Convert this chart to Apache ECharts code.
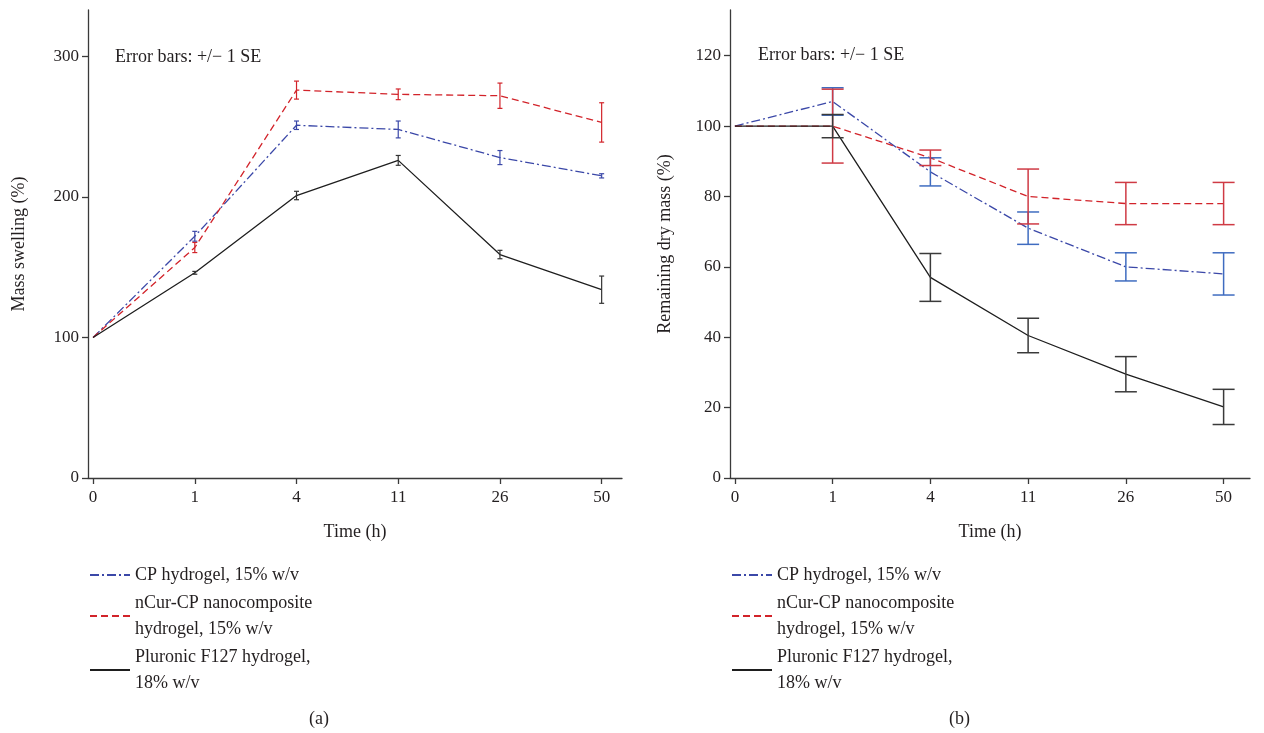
<!DOCTYPE html>
<html><head><meta charset="utf-8">
<script src="https://cdn.jsdelivr.net/npm/echarts@6/dist/echarts.min.js"></script>
<style>html,body{margin:0;padding:0;background:#fff}#c{width:1264px;height:733px}</style>
</head><body><div id="c"></div>
<script>
// ---- data ----
const timeLabels = ['0', '1', '4', '11', '26', '50'];
const seriesNames = ['CP hydrogel, 15% w/v', 'nCur-CP nanocomposite\nhydrogel, 15% w/v', 'Pluronic F127 hydrogel,\n18% w/v'];
const swellTicks = [0, 100, 200, 300];
const dryTicks = [0, 20, 40, 60, 80, 100, 120];

const swellCP   = [100, 172, 251, 248, 228, 215];
const swellCPse = [0, 3.5, 3, 6, 5, 1.5];
const swellNC   = [100, 164, 276, 273, 272, 253];
const swellNCse = [0, 3.6, 6.4, 3.8, 9, 14];
const swellPF   = [100, 146, 201, 226, 159, 134];
const swellPFse = [0, 1, 3, 3.5, 3, 9.7];

const dryCP   = [100, 107, 87, 71, 60, 58];
const dryCPse = [0, 3.9, 4, 4.6, 4, 6];
const dryNC   = [100, 100, 91, 80, 78, 78];
const dryNCse = [0, 10.5, 2.2, 7.8, 6, 6];
const dryPF   = [100, 100, 57, 40.5, 29.5, 20.2];
const dryPFse = [0, 3.3, 6.8, 4.9, 5, 5];

// ---- styles ----
const FONT = '"Liberation Serif", "DejaVu Serif", serif';
const TXT = '#231f20';
const AX = '#3a3a3a';
const lineColors = ['#3b48a8', '#d2232a', '#1e1e1e'];
const lineTypes = [[9, 3, 2, 3], [7, 4], 'solid'];
const errColorsA = ['#3b48a8', '#d2232a', '#333333'];
const errColorsB = ['#3f6cc0', '#cf3a44', '#3a3a3a'];

const chart = echarts.init(document.getElementById('c'), null, {renderer: 'canvas'});

function xAxis(gi) {
  return {
    type: 'value', gridIndex: gi, min: -0.05, max: gi === 0 ? 5.2 : 5.27,
    axisLine: {show: true, onZero: false, lineStyle: {color: AX, width: 1.3}},
    axisTick: {show: true, length: 6, lineStyle: {color: AX, width: 1.3}, customValues: [0, 1, 2, 3, 4, 5]},
    axisLabel: {customValues: [0, 1, 2, 3, 4, 5], formatter: v => timeLabels[Math.round(v)], color: TXT, fontFamily: FONT, fontSize: 17, margin: 11},
    splitLine: {show: false},
    name: 'Time (h)', nameLocation: 'middle', nameGap: 45,
    nameTextStyle: {color: TXT, fontFamily: FONT, fontSize: 18}
  };
}
function yAxis(gi, max, ticks, name, gap) {
  return {
    type: 'value', gridIndex: gi, min: 0, max: max,
    axisLine: {show: true, onZero: false, lineStyle: {color: AX, width: 1.3}},
    axisTick: {show: true, length: 6, lineStyle: {color: AX, width: 1.3}, customValues: ticks},
    axisLabel: {customValues: ticks, color: TXT, fontFamily: FONT, fontSize: 17, margin: 9},
    splitLine: {show: false},
    name: name, nameLocation: 'middle', nameGap: gap, nameRotate: 90,
    nameTextStyle: {color: TXT, fontFamily: FONT, fontSize: 18}
  };
}

function lineSeries(gi, idx, vals) {
  return {
    type: 'line', name: seriesNames[idx], xAxisIndex: gi, yAxisIndex: gi,
    data: vals.map((v, i) => [i, v]), symbol: 'none', z: 3,
    lineStyle: {color: lineColors[idx], width: 1.3, type: lineTypes[idx]},
    itemStyle: {color: lineColors[idx]}
  };
}
function errSeries(gi, vals, se, color, capHalf, lw) {
  return {
    type: 'custom', xAxisIndex: gi, yAxisIndex: gi, z: 4, silent: true,
    data: vals.map((v, i) => [i, v - se[i], v + se[i]]).filter((d, i) => se[i] > 0),
    renderItem: function (params, api) {
      const x = api.value(0);
      const lo = api.coord([x, api.value(1)]);
      const hi = api.coord([x, api.value(2)]);
      const st = {stroke: color, lineWidth: lw};
      return {type: 'group', children: [
        {type: 'line', shape: {x1: lo[0], y1: lo[1], x2: hi[0], y2: hi[1]}, style: st},
        {type: 'line', shape: {x1: hi[0] - capHalf, y1: hi[1], x2: hi[0] + capHalf, y2: hi[1]}, style: st},
        {type: 'line', shape: {x1: lo[0] - capHalf, y1: lo[1], x2: lo[0] + capHalf, y2: lo[1]}, style: st}
      ]};
    }
  };
}

function legend(left) {
  return {
    orient: 'vertical', left: left, top: 557, itemWidth: 40, itemHeight: 12, itemGap: 2,
    data: seriesNames, selectedMode: false,
    itemStyle: {opacity: 0, color: 'transparent', borderWidth: 0},
    textStyle: {color: TXT, fontFamily: FONT, fontSize: 18, lineHeight: 26}
  };
}

const txt = (x, y, s, align) => ({type: 'text', left: x, top: y, style: {text: s, fill: TXT, font: '18px ' + FONT, textAlign: align || 'left'}});

chart.setOption({
  animation: false,
  backgroundColor: '#fff',
  grid: [
    {left: 88, right: 642, top: 10, bottom: 255},
    {left: 730, right: 14, top: 10, bottom: 255}
  ],
  xAxis: [xAxis(0), xAxis(1)],
  yAxis: [
    yAxis(0, 333, swellTicks, 'Mass swelling (%)', 60),
    yAxis(1, 133, dryTicks, 'Remaining dry mass (%)', 56)
  ],
  legend: [legend(84), legend(726)],
  series: [
    lineSeries(0, 0, swellCP), lineSeries(0, 1, swellNC), lineSeries(0, 2, swellPF),
    errSeries(0, swellCP, swellCPse, errColorsA[0], 2.5, 1.2),
    errSeries(0, swellNC, swellNCse, errColorsA[1], 2.5, 1.2),
    errSeries(0, swellPF, swellPFse, errColorsA[2], 2.5, 1.2),
    lineSeries(1, 0, dryCP), lineSeries(1, 1, dryNC), lineSeries(1, 2, dryPF),
    errSeries(1, dryCP, dryCPse, errColorsB[0], 11, 1.5),
    errSeries(1, dryNC, dryNCse, errColorsB[1], 11, 1.5),
    errSeries(1, dryPF, dryPFse, errColorsB[2], 11, 1.5)
  ],
  graphic: [
    txt(115, 48, 'Error bars: +/\u2212 1 SE'),
    txt(758, 46, 'Error bars: +/\u2212 1 SE'),
    txt(309, 710, '(a)'),
    txt(949, 710, '(b)')
  ]
});
</script></body></html>
